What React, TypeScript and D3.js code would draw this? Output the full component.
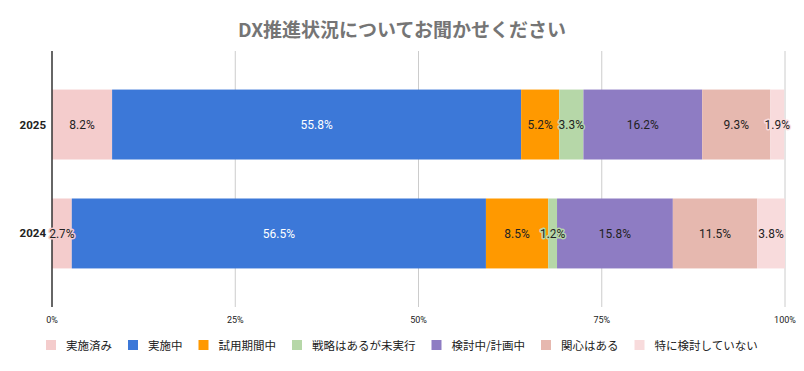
import React, { useMemo } from 'react';
import * as d3 from 'd3';

// chart values
const categories = ['2025', '2024'];
const seriesNames = ['実施済み', '実施中', '試用期間中', '戦略はあるが未実行', '検討中/計画中', '関心はある', '特に検討していない'];
const colors = ['#f4cccc', '#3c78d8', '#ff9900', '#b6d7a8', '#8e7cc3', '#e6b8af', '#f8dbdc'];
const values2025 = [8.2, 55.8, 5.2, 3.3, 16.2, 9.3, 1.9];
const values2024 = [2.7, 56.5, 8.5, 1.2, 15.8, 11.5, 3.8];
const ticks = [0, 25, 50, 75, 100];
const tickLabels = ['0%', '25%', '50%', '75%', '100%'];

const W = 804;
const H = 371;
const JP = '"Noto Sans CJK JP", "Noto Sans", sans-serif';
const NUM = 'Roboto, "Noto Sans", sans-serif';

function measure(text: string, font: string) {
  const c = document.createElement('canvas').getContext('2d');
  if (!c) return text.length * 11;
  c.font = font;
  return c.measureText(text).width;
}

export default function App() {
  const x = d3.scaleLinear().domain([0, 100]).range([52, 785]);
  const y = d3.scaleBand().domain(categories).range([51, 307]).paddingInner(0.358).paddingOuter(0.354);

  const rows = [values2025, values2024].map((vals, i) => {
    const cum = d3.cumsum(vals);
    return vals.map((v, j) => ({ cat: categories[i], v, j, x0: cum[j] - v, x1: cum[j] }));
  });

  const legend = useMemo(() => {
    const font = `11.5px ${JP}`;
    const items = seriesNames.map((n) => ({ n, w: measure(n, font) }));
    const sw = 10, gapText = 10, gapItem = 16;
    const total = d3.sum(items, (d) => sw + gapText + d.w) + gapItem * (items.length - 1);
    let cx = (W - total) / 2;
    return items.map((d, i) => {
      const it = { ...d, x: cx, i };
      cx += sw + gapText + d.w + gapItem;
      return it;
    });
  }, []);

  return (
    <div style={{ position: 'fixed', left: 0, top: 0 }}>
      <svg width={W} height={H} style={{ display: 'block', background: '#fff' }}>
        <text x={W / 2} y={37} textAnchor="middle" fontFamily={JP} fontWeight="bold" fontSize={19} fill="#757575">
          DX推進状況についてお聞かせください
        </text>

        {ticks.slice(1).map((t) => (
          <line key={t} x1={x(t)} x2={x(t)} y1={51} y2={307} stroke="#cccccc" strokeWidth={1} />
        ))}

        {rows.map((row) =>
          row.map((d) => (
            <rect
              key={d.cat + d.j}
              x={x(d.x0)}
              y={y(d.cat)}
              width={x(d.x1) - x(d.x0)}
              height={y.bandwidth()}
              fill={colors[d.j]}
            />
          ))
        )}

        <line x1={x(0)} x2={x(0)} y1={51} y2={307} stroke="#333333" strokeWidth={1.5} />

        {rows.map((row) =>
          row.map((d) => {
            const cx = (x(d.x0) + x(d.x1)) / 2;
            const cy = (y(d.cat) as number) + y.bandwidth() / 2;
            return (
              <text
                key={'l' + d.cat + d.j}
                x={cx}
                y={cy + 4.5}
                textAnchor="middle"
                fontFamily={NUM}
                fontSize={12}
                fill={d.j === 1 ? '#ffffff' : '#222222'}
                stroke={colors[d.j]}
                strokeWidth={d.j === 1 ? 0 : 3}
                strokeLinejoin="round"
                style={{ paintOrder: 'stroke' }}
              >
                {d.v.toFixed(1)}%
              </text>
            );
          })
        )}

        {categories.map((c) => (
          <text
            key={c}
            x={46}
            y={(y(c) as number) + y.bandwidth() / 2 + 4}
            textAnchor="end"
            fontFamily={NUM}
            fontWeight="bold"
            fontSize={11.5}
            fill="#222222"
          >
            {c}
          </text>
        ))}

        {ticks.map((t, i) => (
          <text key={'t' + t} x={x(t)} y={323} textAnchor="middle" fontFamily={NUM} fontSize={9} fill="#222222">
            {tickLabels[i]}
          </text>
        ))}

        {legend.map((d) => (
          <g key={d.n} transform={`translate(${d.x},0)`}>
            <rect x={0} y={340} width={10} height={10} fill={colors[d.i]} />
            <text x={20} y={349.5} fontFamily={JP} fontSize={11.5} fill="#222222">
              {d.n}
            </text>
          </g>
        ))}
      </svg>
    </div>
  );
}
